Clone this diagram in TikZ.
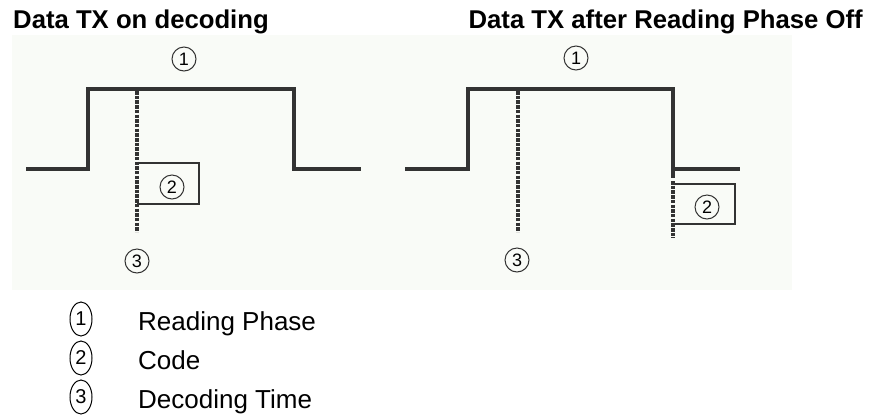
\documentclass[tikz,border=0pt]{standalone}
\usepackage{fontspec}
\setmainfont{Liberation Sans}
\usetikzlibrary{shapes.geometric}
\definecolor{ink}{RGB}{51,51,51}
\definecolor{bgpanel}{RGB}{249,251,247}
\begin{document}
\begin{tikzpicture}[x=1pt,y=-1pt,
  sig/.style={line width=4pt,color=ink,line cap=butt,line join=miter},
  dashv/.style={line width=4pt,color=ink,dash pattern=on 3.5pt off 1.2pt},
  boxl/.style={line width=2.6pt,color=ink},
  num/.style={circle,draw=ink,line width=1pt,minimum size=24pt,inner sep=0pt,font=\fontsize{18}{18}\selectfont},
  lnum/.style={ellipse,draw=black,line width=1pt,minimum width=22pt,minimum height=34pt,inner sep=0pt,font=\fontsize{20}{20}\selectfont},
  title/.style={font=\bfseries\fontsize{25.7}{30}\selectfont,inner sep=0pt},
  legtext/.style={font=\fontsize{26}{30}\selectfont,inner sep=0pt,anchor=base west}
]
\useasboundingbox (0,0) rectangle (875,416);
\fill[white] (0,0) rectangle (875,416);
\fill[bgpanel] (12,35) rectangle (792,290);

% titles
\node[title,anchor=base west] (t1) at (13,28) {Data TX on decoding};
\node[title,anchor=base east] (t2) at (863,28) {Data TX after Reading Phase Off};

% left diagram
\coordinate (a0) at (26,169);
\coordinate (a1) at (88,169);
\coordinate (a2) at (88,89);
\coordinate (a3) at (294,89);
\coordinate (a4) at (294,169);
\coordinate (a5) at (361,169);
\draw[sig] (a0) -- (a1) -- (a2) -- (a3) -- (a4) -- (a5);
\coordinate (ad0) at (137,91);
\coordinate (ad1) at (137,232);
\draw[dashv] (ad0) -- (ad1);
\coordinate (ab0) at (137,163);
\coordinate (ab1) at (199,163);
\coordinate (ab2) at (199,204);
\coordinate (ab3) at (137,204);
\draw[boxl] (ab0) -- (ab1) -- (ab2) -- (ab3);
\node[num] (l1) at (184,59) {1};
\node[num] (l2) at (172,187) {2};
\node[num] (l3) at (137,261) {3};

% right diagram
\coordinate (b0) at (405,169);
\coordinate (b1) at (468,169);
\coordinate (b2) at (468,89);
\coordinate (b3) at (673,89);
\coordinate (b4) at (673,178);
\draw[sig] (b0) -- (b1) -- (b2) -- (b3) -- (b4);
\coordinate (b5) at (673,169);
\coordinate (b6) at (740,169);
\draw[sig] (b5) -- (b6);
\coordinate (bd0) at (518,91);
\coordinate (bd1) at (518,232);
\draw[dashv] (bd0) -- (bd1);
\coordinate (bd2) at (673,181);
\coordinate (bd3) at (673,238);
\draw[dashv] (bd2) -- (bd3);
\coordinate (bb0) at (673,184);
\coordinate (bb1) at (735,184);
\coordinate (bb2) at (735,224);
\coordinate (bb3) at (673,224);
\draw[boxl] (bb0) -- (bb1) -- (bb2) -- (bb3);
\node[num] (r1) at (576,58) {1};
\node[num] (r2) at (707,207) {2};
\node[num] (r3) at (517,260) {3};

% legend
\node[lnum] (k1) at (81,319) {1};
\node[lnum] (k2) at (81,358) {2};
\node[lnum] (k3) at (81,397) {3};
\node[legtext] (g1) at (138,330) {Reading Phase};
\node[legtext] (g2) at (138,369) {Code};
\node[legtext] (g3) at (138,408) {Decoding Time};
\end{tikzpicture}
\end{document}
